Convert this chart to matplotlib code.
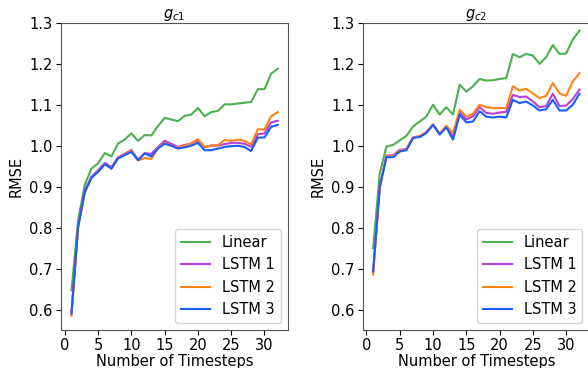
import matplotlib.pyplot as plt
import numpy as np

steps = np.arange(1, 33)

# g_c1 panel
c1_linear = [0.647, 0.818, 0.905, 0.944, 0.957, 0.982, 0.974, 1.005, 1.015, 1.030,
             1.012, 1.026, 1.025, 1.048, 1.068, 1.064, 1.060, 1.073, 1.076, 1.092,
             1.072, 1.082, 1.085, 1.101, 1.101, 1.103, 1.105, 1.107, 1.138, 1.138,
             1.176, 1.188]
c1_lstm1 = [0.592, 0.805, 0.890, 0.925, 0.940, 0.958, 0.948, 0.972, 0.980, 0.990,
            0.966, 0.982, 0.980, 0.997, 1.012, 1.005, 0.997, 1.002, 1.005, 1.013,
            0.997, 1.000, 1.000, 1.004, 1.007, 1.007, 1.005, 0.997, 1.028, 1.030,
            1.057, 1.061]
c1_lstm2 = [0.585, 0.800, 0.885, 0.922, 0.937, 0.955, 0.945, 0.970, 0.978, 0.988,
            0.964, 0.970, 0.968, 0.995, 1.007, 1.000, 0.996, 1.000, 1.006, 1.016,
            0.996, 1.001, 1.001, 1.014, 1.012, 1.015, 1.012, 1.003, 1.040, 1.040,
            1.072, 1.082]
c1_lstm3 = [0.590, 0.802, 0.887, 0.922, 0.936, 0.955, 0.944, 0.969, 0.977, 0.985,
            0.965, 0.981, 0.974, 0.993, 1.005, 1.000, 0.993, 0.996, 1.000, 1.007,
            0.989, 0.989, 0.993, 0.997, 0.999, 1.000, 0.997, 0.987, 1.020, 1.020,
            1.046, 1.051]

# g_c2 panel
c2_linear = [0.750, 0.933, 0.998, 1.002, 1.013, 1.024, 1.047, 1.059, 1.071, 1.100,
             1.076, 1.094, 1.076, 1.149, 1.132, 1.145, 1.163, 1.159, 1.160, 1.163,
             1.165, 1.224, 1.216, 1.224, 1.220, 1.200, 1.216, 1.246, 1.224, 1.225,
             1.259, 1.281]
c2_lstm1 = [0.693, 0.900, 0.976, 0.977, 0.990, 0.992, 1.020, 1.023, 1.033, 1.052,
            1.029, 1.047, 1.020, 1.082, 1.064, 1.072, 1.094, 1.080, 1.078, 1.081,
            1.083, 1.124, 1.119, 1.120, 1.108, 1.094, 1.097, 1.127, 1.097, 1.098,
            1.114, 1.137]
c2_lstm2 = [0.685, 0.900, 0.974, 0.975, 0.988, 0.991, 1.020, 1.024, 1.033, 1.052,
            1.030, 1.049, 1.031, 1.088, 1.071, 1.078, 1.100, 1.094, 1.092, 1.092,
            1.092, 1.145, 1.135, 1.139, 1.128, 1.116, 1.122, 1.153, 1.128, 1.122,
            1.157, 1.177]
c2_lstm3 = [0.693, 0.898, 0.972, 0.972, 0.986, 0.989, 1.019, 1.021, 1.031, 1.051,
            1.027, 1.045, 1.015, 1.076, 1.057, 1.059, 1.084, 1.071, 1.069, 1.071,
            1.069, 1.112, 1.104, 1.108, 1.098, 1.086, 1.089, 1.112, 1.086, 1.086,
            1.100, 1.127]

labels = ["Linear", "LSTM 1", "LSTM 2", "LSTM 3"]
colors = ["#4caf50", "#b940d8", "#ff8217", "#1a5cff"]
titles = ["$g_{c1}$", "$g_{c2}$"]
panels = [[c1_linear, c1_lstm1, c1_lstm2, c1_lstm3],
          [c2_linear, c2_lstm1, c2_lstm2, c2_lstm3]]

fig = plt.figure(figsize=(5.88, 3.68), dpi=100)
axes = [fig.add_axes([0.104, 0.103, 0.386, 0.835]),
        fig.add_axes([0.617, 0.103, 0.386, 0.835])]

for ax, series, title in zip(axes, panels, titles):
    for vals, lab, col in zip(series, labels, colors):
        ax.plot(steps, vals, color=col, lw=1.5, label=lab)
    ax.set_ylim(0.55, 1.3)
    ax.set_xticks([0, 5, 10, 15, 20, 25, 30])
    ax.set_yticks([0.6, 0.7, 0.8, 0.9, 1.0, 1.1, 1.2, 1.3])
    ax.tick_params(labelsize=10.5, pad=2.5)
    ax.set_title(title, fontsize=10.5, pad=3)
    ax.set_xlabel("Number of Timesteps", fontsize=10.5, labelpad=0.5)
    ax.set_ylabel("RMSE", fontsize=10.5)
    ax.legend(loc="lower right", fontsize=10.5)
    for sp in ax.spines.values():
        sp.set_color("#555555")

plt.savefig("out.png", dpi=100)
